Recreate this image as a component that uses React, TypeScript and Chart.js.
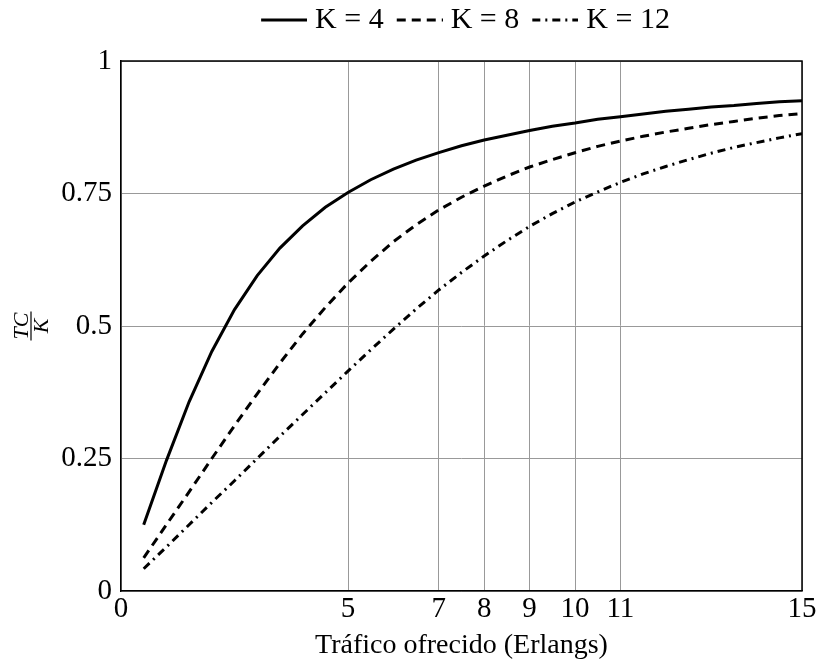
import React, { useEffect, useRef } from 'react';
import { Chart, registerables } from 'chart.js';

Chart.register(...registerables);

// Offered traffic (Erlangs)
const traffic = [0.5, 1, 1.5, 2, 2.5, 3, 3.5, 4, 4.5, 5, 5.5, 6, 6.5, 7, 7.5, 8, 8.5, 9, 9.5, 10, 10.5, 11, 11.5, 12, 12.5, 13, 13.5, 14, 14.5, 15];
// TC/K for each K
const k4 = [0.125, 0.246, 0.357, 0.452, 0.531, 0.595, 0.647, 0.689, 0.724, 0.752, 0.776, 0.796, 0.813, 0.827, 0.840, 0.851, 0.860, 0.869, 0.877, 0.883, 0.890, 0.895, 0.900, 0.905, 0.909, 0.913, 0.916, 0.920, 0.923, 0.925];
const k8 = [0.0625, 0.125, 0.187, 0.250, 0.312, 0.372, 0.430, 0.485, 0.535, 0.581, 0.622, 0.659, 0.691, 0.719, 0.743, 0.764, 0.783, 0.800, 0.814, 0.827, 0.839, 0.849, 0.858, 0.866, 0.873, 0.880, 0.886, 0.892, 0.897, 0.901];
const k12 = [0.042, 0.083, 0.125, 0.167, 0.208, 0.250, 0.292, 0.333, 0.374, 0.415, 0.455, 0.494, 0.532, 0.568, 0.601, 0.632, 0.661, 0.688, 0.712, 0.734, 0.753, 0.771, 0.787, 0.801, 0.814, 0.826, 0.837, 0.846, 0.855, 0.863];

const seriesLabels = ['K = 4', 'K = 8', 'K = 12'];
const xTicks = [0, 5, 7, 8, 9, 10, 11, 15];
const yTicks = [0, 0.25, 0.5, 0.75, 1];
const xTitle = 'Tráfico ofrecido (Erlangs)';
const yTitleNum = 'TC';
const yTitleDen = 'K';

const FONT = "'Liberation Serif', 'Times New Roman', serif";
const DASHES: number[][] = [[], [9, 6], [8, 5, 2, 5]];

const pts = (ys: number[]) => ys.map((y, i) => ({ x: traffic[i], y }));

function legendMarker(dash: number[]) {
  const c = document.createElement('canvas');
  c.width = 61;
  c.height = 8;
  const g = c.getContext('2d')!;
  g.strokeStyle = '#000';
  g.lineWidth = 3;
  g.setLineDash(dash);
  g.beginPath();
  g.moveTo(15, 4);
  g.lineTo(61, 4);
  g.stroke();
  return c;
}

export default function App() {
  const ref = useRef<HTMLCanvasElement | null>(null);

  useEffect(() => {
    if (!ref.current) return;

    const framePlugin = {
      id: 'frameAndFraction',
      beforeLayout(chart: any) {
        const lg = chart.legend;
        if (lg && !lg._tallPatched) {
          const origFit = lg.fit;
          lg.fit = function () {
            origFit.call(this);
            this.height = 61;
          };
          lg._tallPatched = true;
        }
      },
      afterDraw(chart: any) {
        const ctx = chart.ctx;
        const { left, right, top, bottom } = chart.chartArea;
        ctx.save();
        ctx.strokeStyle = '#000';
        ctx.lineWidth = 1.5;
        ctx.beginPath();
        ctx.moveTo(left, top);
        ctx.lineTo(right, top);
        ctx.lineTo(right, bottom);
        ctx.stroke();
        ctx.restore();

        // rotated fraction TC / K
        ctx.save();
        ctx.translate(31, (top + bottom) / 2);
        ctx.rotate(-Math.PI / 2);
        ctx.fillStyle = '#000';
        ctx.strokeStyle = '#000';
        ctx.font = "italic 22px 'Liberation Serif', serif";
        ctx.textAlign = 'center';
        ctx.textBaseline = 'alphabetic';
        const w = ctx.measureText(yTitleNum).width;
        ctx.fillText(yTitleNum, 0, -3);
        ctx.lineWidth = 1.2;
        ctx.beginPath();
        ctx.moveTo(-w / 2 - 1, 0);
        ctx.lineTo(w / 2 + 1, 0);
        ctx.stroke();
        ctx.fillText(yTitleDen, 0, 17);
        ctx.restore();
      },
    };

    const makeDs = (i: number, ys: number[]) => ({
      label: seriesLabels[i],
      data: pts(ys),
      borderColor: '#000',
      backgroundColor: '#000',
      borderWidth: 3,
      pointRadius: 0,
      tension: 0,
      borderDash: DASHES[i],
      pointStyle: legendMarker(DASHES[i]),
    });

    const chart = new Chart(ref.current, {
      type: 'line',
      data: {
        datasets: [makeDs(0, k4), makeDs(1, k8), makeDs(2, k12)],
      },
      options: {
        animation: false,
        responsive: true,
        maintainAspectRatio: false,
        layout: { padding: { left: 0, right: 17, top: 0, bottom: 0 } },
        scales: {
          x: {
            type: 'linear',
            min: 0,
            max: 15,
            afterBuildTicks: (s: any) => {
              s.ticks = xTicks.map((v) => ({ value: v }));
            },
            afterFit: (s: any) => {
              s.height = 75;
            },
            ticks: {
              font: { family: FONT, size: 29 },
              color: '#000',
              padding: 1,
              autoSkip: false,
              maxRotation: 0,
              callback: (v: any) => String(v),
            },
            grid: { color: '#999', lineWidth: 1, drawTicks: false },
            border: { color: '#000', width: 1.5 },
            title: {
              display: true,
              text: xTitle,
              font: { family: FONT, size: 28 },
              color: '#000',
              padding: { top: 0, bottom: 4 },
            },
          },
          y: {
            type: 'linear',
            min: 0,
            max: 1,
            afterBuildTicks: (s: any) => {
              s.ticks = yTicks.map((v) => ({ value: v }));
            },
            afterFit: (s: any) => {
              s.width = 121;
            },
            ticks: {
              font: { family: FONT, size: 29 },
              color: '#000',
              padding: 9,
              callback: (v: any) => String(v),
            },
            grid: { color: '#999', lineWidth: 1, drawTicks: false },
            border: { color: '#000', width: 1.5 },
          },
        },
        plugins: {
          legend: {
            position: 'top',
            fullSize: false,
            align: 'center',
            labels: {
              usePointStyle: true,
              pointStyleWidth: 47,
              font: { family: FONT, size: 30 },
              color: '#000',
              padding: 5,
            },
          },
          tooltip: { enabled: false },
        },
      } as any,
      plugins: [framePlugin],
    });

    return () => chart.destroy();
  }, []);

  return (
    <div style={{ position: 'absolute', left: 0, top: 0, width: 819, height: 666 }}>
      <canvas ref={ref} />
    </div>
  );
}
